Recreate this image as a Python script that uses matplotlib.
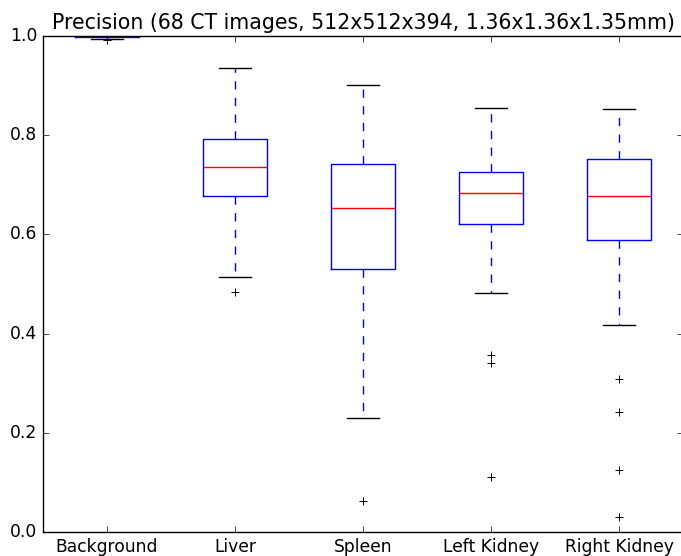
import matplotlib
matplotlib.use("Agg")
import matplotlib.pyplot as plt

plt.style.use("classic")

organs = ["Background", "Liver", "Spleen", "Left Kidney", "Right Kidney"]
whis_low = [0.994, 0.514, 0.230, 0.482, 0.417]
q1 = [0.998, 0.677, 0.530, 0.621, 0.589]
median = [0.999, 0.736, 0.653, 0.683, 0.677]
q3 = [0.999, 0.792, 0.742, 0.726, 0.752]
whis_high = [1.000, 0.935, 0.901, 0.855, 0.853]
outliers = [
    [0.992],
    [0.484],
    [0.0625],
    [0.357, 0.341, 0.111],
    [0.308, 0.242, 0.125, 0.030],
]

stats = []
for i, name in enumerate(organs):
    stats.append({
        "label": name,
        "whislo": whis_low[i],
        "q1": q1[i],
        "med": median[i],
        "q3": q3[i],
        "whishi": whis_high[i],
        "fliers": outliers[i],
    })

fig = plt.figure(figsize=(6.81, 5.56), dpi=100)
ax = fig.add_axes([43 / 681, 1 - 532 / 556, 640 / 681, 496 / 556])
ax.bxp(stats, widths=0.5, flierprops={"markeredgewidth": 0.7})
ax.set_ylim(0, 1)
ax.set_xlim(0.5, 5.5)
ax.set_yticks([0.0, 0.2, 0.4, 0.6, 0.8, 1.0])
ax.tick_params(labelsize=12.3)
ax.set_title("Precision (68 CT images, 512x512x394, 1.36x1.36x1.35mm)", fontsize=14.8)

fig.savefig("out.png", dpi=100)
